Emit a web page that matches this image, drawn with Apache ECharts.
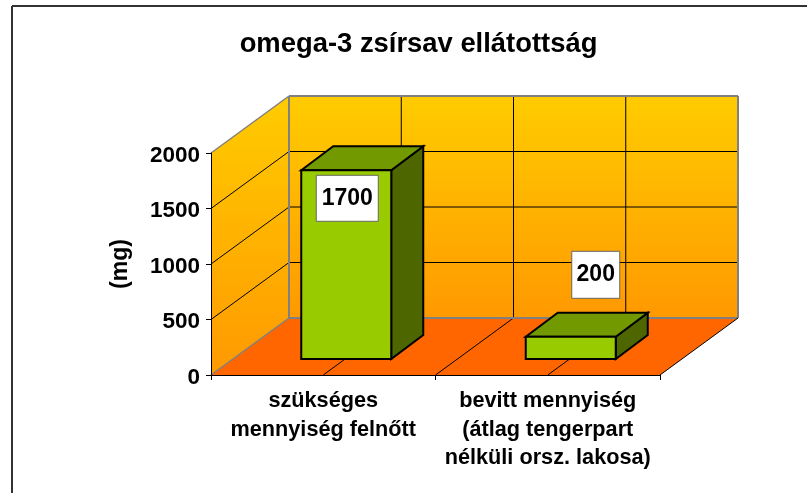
<!DOCTYPE html>
<html>
<head>
<meta charset="utf-8">
<style>
  html, body { margin: 0; padding: 0; background: #fff; }
  #chart { width: 807px; height: 493px; }
</style>
</head>
<body>
<div id="chart"></div>
<script src="https://cdn.jsdelivr.net/npm/echarts@6/dist/echarts.min.js"></script>
<script>
const titleText = 'omega-3 zsírsav ellátottság';
const yName = '(mg)';
const categories = [
  'szükséges\nmennyiség felnőtt',
  'bevitt mennyiség\n(átlag tengerpart\nnélküli orsz. lakosa)'
];
const values = [1700, 200];
const yTicks = [0, 500, 1000, 1500, 2000];
const floorDivisions = [0.25, 0.5, 0.75];

const FONT = '"Liberation Sans", Arial, sans-serif';
// fake 3d: how far the back wall sits from the front plane, in pixels
const DEPTH_X = 78;
const DEPTH_Y = -57;
// bar position inside the depth
const BAR_FRONT_X = 23, BAR_FRONT_Y = -16;
const BAR_DEPTH_X = 32, BAR_DEPTH_Y = -24;
const BAR_HALF = 45;
// the labels were dragged by hand in the original
const labelBox = [
  { dx: 1, dy: 28, w: 62, h: 46 },
  { dx: 25, dy: -62, w: 48, h: 47 }
];

function line(x1, y1, x2, y2, color, width) {
  return {
    type: 'line',
    shape: { x1: x1, y1: y1, x2: x2, y2: y2 },
    style: { stroke: color, lineWidth: width }
  };
}

function renderWalls(params, api) {
  const g = params.coordSys;
  const left = g.x, right = g.x + g.width;
  const bottom = api.coord([0, 0])[1], top = api.coord([0, 2000])[1];
  const backL = left + DEPTH_X, backR = right + DEPTH_X;
  const backB = bottom + DEPTH_Y, backT = top + DEPTH_Y;
  const wallFill = new echarts.graphic.LinearGradient(0, backT, 0, backB, [
    { offset: 0, color: '#ffcc00' },
    { offset: 1, color: '#ff9900' }
  ], true);
  const sideFill = new echarts.graphic.LinearGradient(0, backT, 0, bottom, [
    { offset: 0, color: '#ffcc00' },
    { offset: 1, color: '#ff9900' }
  ], true);
  const children = [
    { type: 'polygon', shape: { points: [[backL, backT], [backR, backT], [backR, backB], [backL, backB]] }, style: { fill: wallFill } },
    { type: 'polygon', shape: { points: [[left, top], [backL, backT], [backL, backB], [left, bottom]] }, style: { fill: sideFill } },
    { type: 'polygon', shape: { points: [[left, bottom], [backL, backB], [backR, backB], [right, bottom]] }, style: { fill: '#ff6600' } }
  ];
  yTicks.forEach(function (v) {
    const y = api.coord([0, v])[1];
    if (v > 0 && v < 2000) {
      children.push(line(left, y, backL, y + DEPTH_Y, '#000', 1));
      children.push(line(backL, y + DEPTH_Y, backR, y + DEPTH_Y, '#000', 1));
    }
  });
  floorDivisions.forEach(function (f) {
    const x = left + g.width * f;
    children.push(line(x + DEPTH_X, backT, x + DEPTH_X, backB, '#000', 1));
    children.push(line(x, bottom, x + DEPTH_X, backB, '#000', 1));
  });
  // grey edges of the walls
  children.push(line(left, top, backL, backT, '#808080', 1.5));
  children.push(line(backL, backT, backR, backT, '#808080', 2));
  children.push(line(backL, backT, backL, backB, '#808080', 2));
  children.push(line(backR, backT, backR, backB, '#808080', 2));
  children.push(line(backL, backB, backR, backB, '#808080', 2));
  children.push(line(left, bottom, backL, backB, '#808080', 1.5));
  children.push(line(right, bottom, backR, backB, '#000', 1));
  return { type: 'group', children: children };
}

function renderBar(params, api) {
  const idx = api.value(0);
  const val = api.value(1);
  const base = api.coord([idx, 0]);
  const topY = api.coord([idx, val])[1] + BAR_FRONT_Y;
  const botY = base[1] + BAR_FRONT_Y;
  const l = base[0] + BAR_FRONT_X - BAR_HALF;
  const r = base[0] + BAR_FRONT_X + BAR_HALF;
  const edge = { stroke: '#000', lineWidth: 2, lineJoin: 'miter' };
  const dx = BAR_DEPTH_X, dy = BAR_DEPTH_Y;
  const box = labelBox[idx];
  const cx = base[0] + BAR_FRONT_X + box.dx;
  const cy = topY + box.dy;
  return {
    type: 'group',
    children: [
      { type: 'polygon', shape: { points: [[r, topY], [r + dx, topY + dy], [r + dx, botY + dy], [r, botY]] }, style: Object.assign({ fill: '#4d6600' }, edge) },
      { type: 'polygon', shape: { points: [[l, topY], [l + dx, topY + dy], [r + dx, topY + dy], [r, topY]] }, style: Object.assign({ fill: '#739900' }, edge) },
      { type: 'rect', shape: { x: l, y: topY, width: r - l, height: botY - topY }, style: Object.assign({ fill: '#99cc00' }, edge) },
      { type: 'rect', shape: { x: cx - box.w / 2, y: cy - box.h / 2, width: box.w, height: box.h }, style: { fill: '#fff', stroke: '#666', lineWidth: 1 } },
      { type: 'text', x: cx, y: cy, style: { text: String(val), fill: '#000', font: 'bold 23px ' + FONT, align: 'center', verticalAlign: 'middle' } }
    ]
  };
}

const myChart = echarts.init(document.getElementById('chart'));
myChart.setOption({
  animation: false,
  backgroundColor: '#fff',
  title: {
    text: titleText,
    left: 413.5,
    top: 26,
    textAlign: 'center',
    textStyle: { color: '#000', fontFamily: FONT, fontWeight: 'bold', fontSize: 27.4 }
  },
  graphic: [
    { type: 'line', shape: { x1: 12, y1: 6, x2: 807, y2: 6 }, style: { stroke: '#333', lineWidth: 2 } },
    { type: 'line', shape: { x1: 12, y1: 6, x2: 12, y2: 493 }, style: { stroke: '#333', lineWidth: 2 } }
  ],
  grid: { left: 211, top: 153, width: 449, height: 222 },
  xAxis: {
    type: 'category',
    data: categories,
    z: 10,
    axisLine: { lineStyle: { color: '#000', width: 1 } },
    axisTick: { show: true, length: 5, lineStyle: { color: '#000' } },
    axisLabel: {
      interval: 0,
      margin: 12,
      color: '#000',
      fontFamily: FONT,
      fontWeight: 'bold',
      fontSize: 21.7,
      lineHeight: 28.5
    }
  },
  yAxis: {
    type: 'value',
    min: 0,
    max: 2000,
    interval: 500,
    z: 10,
    name: yName,
    nameLocation: 'middle',
    nameRotate: 90,
    nameGap: 79,
    nameTextStyle: { color: '#000', fontFamily: FONT, fontWeight: 'bold', fontSize: 23 },
    splitLine: { show: false },
    axisLine: { show: true, lineStyle: { color: '#000', width: 1 } },
    axisTick: { show: true, length: 5, lineStyle: { color: '#000' } },
    axisLabel: {
      margin: 11,
      color: '#000',
      formatter: function (v) { return '{v|' + v + '}'; },
      rich: {
        v: { fontFamily: FONT, fontWeight: 'bold', fontSize: 22.5, color: '#000', padding: [5, 0, 0, 0] }
      }
    }
  },
  series: [
    { type: 'custom', name: 'walls', clip: false, silent: true, z: 1, data: [[0]], renderItem: renderWalls },
    {
      type: 'custom',
      name: 'omega-3',
      clip: false,
      silent: true,
      z: 2,
      data: values.map(function (v, i) { return [i, v]; }),
      encode: { x: 0, y: 1 },
      renderItem: renderBar
    }
  ]
});
</script>
</body>
</html>
